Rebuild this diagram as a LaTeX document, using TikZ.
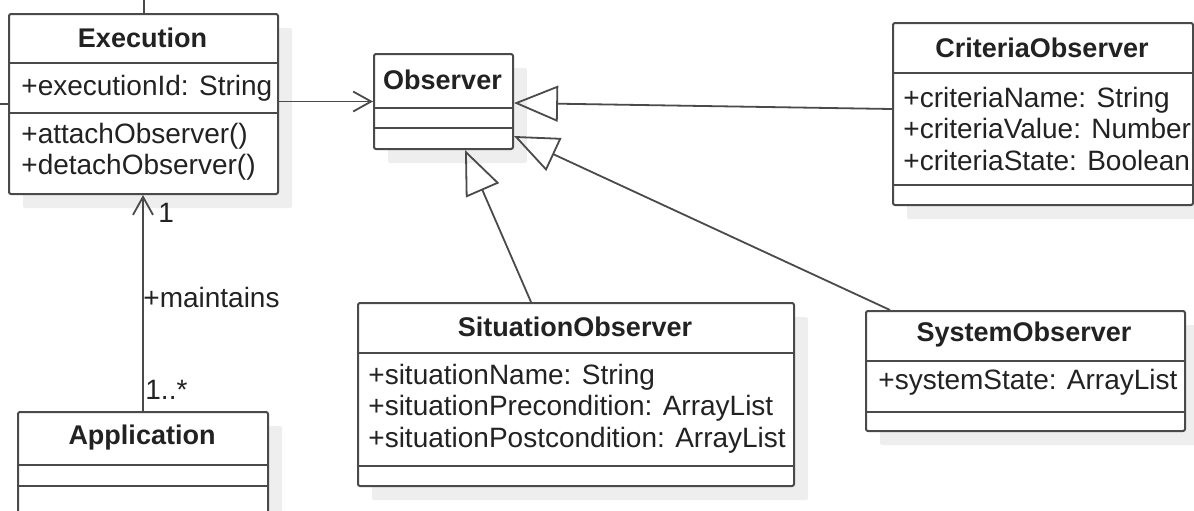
\documentclass[tikz,border=0pt]{standalone}
\usepackage{fontspec}
\setmainfont{Liberation Sans}
\usepackage{tikz}
\usetikzlibrary{arrows.meta}
\usetikzlibrary{shadows}
\definecolor{lineColor}{HTML}{4A4A4A}
\definecolor{shadowColor}{HTML}{EEEEEE}
\definecolor{textColor}{HTML}{222222}

\tikzset{
  classbox/.style={draw=lineColor, line width=1pt, fill=white, rounded corners=1pt,
    anchor=north west, inner sep=0pt,
    drop shadow={shadow xshift=7pt, shadow yshift=-7pt, fill=shadowColor, opacity=1}},
  classname/.style={font=\fontsize{13.5}{16}\selectfont\bfseries, text=textColor, inner sep=0pt},
  members/.style={anchor=west, align=left, inner sep=0pt, font=\fontsize{14}{15.75}\selectfont, text=textColor},
  divider/.style={draw=lineColor, line width=1pt},
  generalization/.style={draw=lineColor, line width=0.9pt, -{Triangle[open, length=22pt, width=18pt, line width=0.9pt]}},
  association/.style={draw=lineColor, line width=0.9pt, -{Straight Barb[length=9pt, width=10pt, line width=0.9pt]}},
}

\begin{document}
\begin{tikzpicture}[x=0.5pt, y=-0.5pt]
          \useasboundingbox (0,0) rectangle (1194,510);
          % classes
          \node[classbox, minimum width=134.5pt, minimum height=90pt] (exec) at (8,13) {};
          \node[classbox, minimum width=69.5pt, minimum height=47.5pt] (obs) at (373,53) {};
          \node[classbox, minimum width=150pt, minimum height=91pt] (crit) at (892,22) {};
          \node[classbox, minimum width=125pt, minimum height=70pt] (app) at (17,411) {};
          \node[classbox, minimum width=218pt, minimum height=91.5pt] (sit) at (357,302) {};
          \node[classbox, minimum width=159.5pt, minimum height=60pt] (sys) at (865,310) {};
          % compartments
          \draw[divider] (exec.west |- 0,63) -- (exec.east |- 0,63);
          \draw[divider] (exec.west |- 0,113) -- (exec.east |- 0,113);
          \draw[divider] (obs.west |- 0,108) -- (obs.east |- 0,108);
          \draw[divider] (obs.west |- 0,128) -- (obs.east |- 0,128);
          \draw[divider] (crit.west |- 0,73) -- (crit.east |- 0,73);
          \draw[divider] (crit.west |- 0,185) -- (crit.east |- 0,185);
          \draw[divider] (app.west |- 0,465) -- (app.east |- 0,465);
          \draw[divider] (app.west |- 0,486) -- (app.east |- 0,486);
          \draw[divider] (sit.west |- 0,353) -- (sit.east |- 0,353);
          \draw[divider] (sit.west |- 0,466) -- (sit.east |- 0,466);
          \draw[divider] (sys.west |- 0,361) -- (sys.east |- 0,361);
          \draw[divider] (sys.west |- 0,412) -- (sys.east |- 0,412);
          % names and members
          \node[classname] (execName) at (142.5,38) {Execution};
          \node[members] (execAttr) at (21,88) {+executionId: String};
          \node[members] (execOps) at (21,151.5) {+attachObserver()\\+detachObserver()};
          \node[classname] (obsName) at (442.5,80) {Observer};
          \node[classname] (critName) at (1042,48) {CriteriaObserver};
          \node[members] (critAttr) at (903,128.5) {+criteriaName: String\\+criteriaValue: Number\\+criteriaState: Boolean};
          \node[classname] (appName) at (142,438) {Application};
          \node[classname] (sitName) at (575,327) {SituationObserver};
          \node[members] (sitAttr) at (368,408.5) {+situationName: String\\+situationPrecondition: ArrayList\\+situationPostcondition: ArrayList};
          \node[classname] (sysName) at (1024,335) {SystemObserver};
          \node[members] (sysAttr) at (878,382) {+systemState: ArrayList};
          % relations
          \draw[association] (exec.east |- obs.west) -- (obs.west);
          \draw[generalization] ([yshift=2.5pt]crit.west) -- ([yshift=-0.75pt]obs.east);
          \draw[generalization] ([xshift=-22.5pt]sit.north) -- ([xshift=10.75pt]obs.south);
          \draw[generalization] ([xshift=12.5pt]sys.north west) -- ([yshift=7pt]obs.south east);
          \draw[association] (app.north) -- (app.north |- exec.south);
          \node[members] (oneLbl) at (158,213) {1};
          \node[members] (maintainsLbl) at (143,297) {+maintains};
          \node[members] (manyLbl) at (145,390) {1..*};
          % cut-off ends
          \draw[divider] (exec.north) -- (exec.north |- 0,0);
          \draw[divider] (exec.west) -- ++(-8,0);
        \end{tikzpicture}
\end{document}
